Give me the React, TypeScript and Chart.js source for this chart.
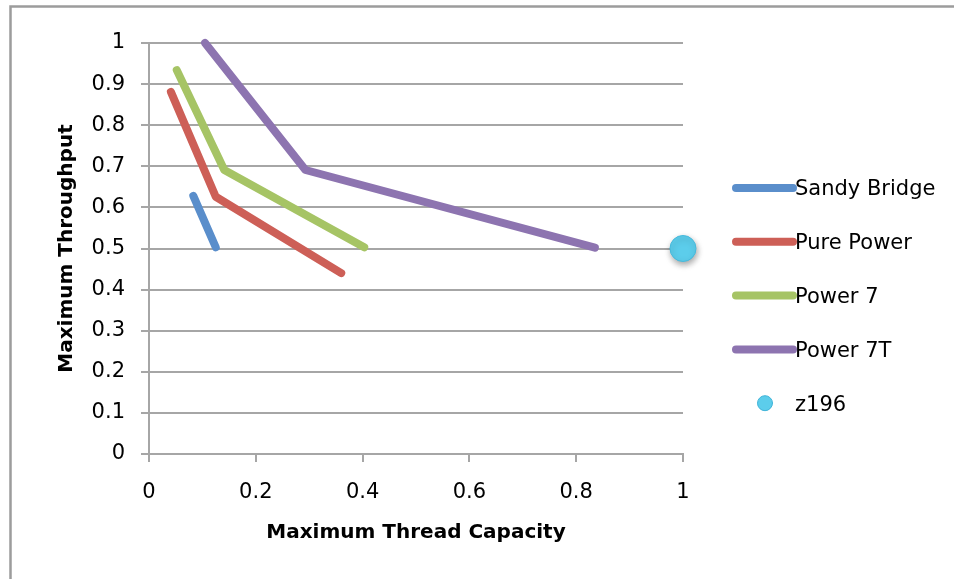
import React, { useEffect, useRef } from "react";
import { Chart, registerables } from "chart.js";

Chart.register(...registerables);

const seriesNames = ["Sandy Bridge", "Pure Power", "Power 7", "Power 7T", "z196"];
const seriesColors = ["#5A8ECB", "#CD5F57", "#A6C465", "#8D74B0", "#5CCDEB"];

const sandyX = [0.083, 0.125];
const sandyY = [0.628, 0.503];
const pureX = [0.041, 0.125, 0.36];
const pureY = [0.881, 0.626, 0.44];
const p7X = [0.052, 0.141, 0.403];
const p7Y = [0.934, 0.691, 0.503];
const p7tX = [0.105, 0.293, 0.835];
const p7tY = [1.0, 0.691, 0.502];
const z196X = [1.0];
const z196Y = [0.5];

const xTickLabels = ["0", "0.2", "0.4", "0.6", "0.8", "1"];
const yTickLabels = ["0", "0.1", "0.2", "0.3", "0.4", "0.5", "0.6", "0.7", "0.8", "0.9", "1"];

const xTitle = "Maximum Thread Capacity";
const yTitle = "Maximum Throughput";

const FONT = "'DejaVu Sans', sans-serif";
const GRID = "#A6A6A6";

function pts(xs: number[], ys: number[]) {
  return xs.map((x, i) => ({ x, y: ys[i] }));
}

const framePlugin = {
  id: "frame",
  beforeDraw(chart: any) {
    const ctx = chart.ctx;
    ctx.save();
    ctx.strokeStyle = "#9C9C9C";
    ctx.lineWidth = 2.5;
    ctx.beginPath();
    ctx.moveTo(10.5, 579);
    ctx.lineTo(10.5, 6.5);
    ctx.lineTo(954, 6.5);
    ctx.stroke();
    ctx.restore();
  },
};

const shadowPlugin = {
  id: "pointShadow",
  beforeDatasetDraw(chart: any, args: any) {
    if (args.index === 4) {
      const ctx = chart.ctx;
      ctx.save();
      ctx.shadowColor = "rgba(0,0,0,0.35)";
      ctx.shadowBlur = 6;
      ctx.shadowOffsetX = 1;
      ctx.shadowOffsetY = 3;
    }
  },
  afterDatasetDraw(chart: any, args: any) {
    if (args.index === 4) {
      chart.ctx.restore();
    }
  },
};

const legendPlugin = {
  id: "customLegend",
  afterDraw(chart: any) {
    const ctx = chart.ctx;
    const left = chart.chartArea.right + 52;
    const firstY = 189;
    const step = 53.8;
    ctx.save();
    chart.data.datasets.forEach((ds: any, i: number) => {
      const y = firstY + i * step;
      if (ds.showLine) {
        ctx.strokeStyle = ds.borderColor;
        ctx.lineWidth = 8;
        ctx.lineCap = "round";
        ctx.beginPath();
        ctx.moveTo(left + 1, y - 1);
        ctx.lineTo(left + 58, y - 1);
        ctx.stroke();
      } else {
        ctx.fillStyle = ds.backgroundColor;
        ctx.strokeStyle = "#3FB3D8";
        ctx.lineWidth = 1;
        ctx.beginPath();
        ctx.arc(left + 30, y - 1, 7.5, 0, Math.PI * 2);
        ctx.fill();
        ctx.stroke();
      }
      ctx.fillStyle = "#000";
      ctx.font = `21px ${FONT}`;
      ctx.textBaseline = "middle";
      ctx.textAlign = "left";
      ctx.fillText(ds.label, left + 60, y + 1);
    });
    ctx.restore();
  },
};

export default function App() {
  const ref = useRef<HTMLCanvasElement | null>(null);

  useEffect(() => {
    document.body.style.margin = "0";
    if (!ref.current) return;
    const lineDs = (i: number, xs: number[], ys: number[]) => ({
      label: seriesNames[i],
      data: pts(xs, ys),
      showLine: true,
      borderColor: seriesColors[i],
      backgroundColor: seriesColors[i],
      borderWidth: 8,
      borderCapStyle: "round",
      borderJoinStyle: "round",
      pointRadius: 0,
      tension: 0,
      clip: false,
    });
    const chart = new Chart(ref.current, {
      type: "scatter",
      data: {
        datasets: [
          lineDs(0, sandyX, sandyY),
          lineDs(1, pureX, pureY),
          lineDs(2, p7X, p7Y),
          lineDs(3, p7tX, p7tY),
          {
            label: seriesNames[4],
            data: pts(z196X, z196Y),
            showLine: false,
            backgroundColor: seriesColors[4],
            borderColor: "#45B9DC",
            borderWidth: 1,
            pointRadius: 13,
            clip: false,
          } as any,
        ],
      },
      options: {
        responsive: false,
        animation: false,
        devicePixelRatio: 1,
        layout: { padding: { top: 43, right: 271, left: 0, bottom: 0 } },
        plugins: {
          legend: { display: false },
          tooltip: { enabled: false },
        },
        scales: {
          x: {
            type: "linear",
            min: 0,
            max: 1,
            afterFit: (s: any) => {
              s.height = 125;
            },
            ticks: {
              stepSize: 0.2,
              padding: 18,
              color: "#000",
              font: { family: FONT, size: 21 },
              maxRotation: 0,
              callback: (_v: any, i: number) => xTickLabels[i],
            },
            grid: {
              drawOnChartArea: false,
              drawTicks: true,
              tickLength: 8,
              color: GRID,
              lineWidth: 2,
            },
            border: { display: true, color: GRID, width: 2 },
            title: {
              display: true,
              text: xTitle,
              color: "#000",
              font: { family: FONT, size: 20, weight: "bold" },
              padding: { top: 0, bottom: 34 },
            },
          },
          y: {
            type: "linear",
            min: 0,
            max: 1,
            afterFit: (s: any) => {
              s.width = 149;
            },
            ticks: {
              stepSize: 0.1,
              padding: 16,
              color: "#000",
              font: { family: FONT, size: 21 },
              callback: (_v: any, i: number) => yTickLabels[i],
            },
            grid: {
              drawOnChartArea: true,
              drawTicks: true,
              tickLength: 8,
              color: GRID,
              lineWidth: 2,
            },
            border: { display: true, color: GRID, width: 2 },
            title: {
              display: true,
              text: yTitle,
              color: "#000",
              font: { family: FONT, size: 20, weight: "bold" },
              padding: { top: 55, bottom: 0 },
            },
          },
        },
      } as any,
      plugins: [framePlugin, shadowPlugin, legendPlugin],
    });
    return () => chart.destroy();
  }, []);

  return (
    <div style={{ position: "absolute", left: 0, top: 0, width: 954, height: 579 }}>
      <canvas ref={ref} width={954} height={579} />
    </div>
  );
}
